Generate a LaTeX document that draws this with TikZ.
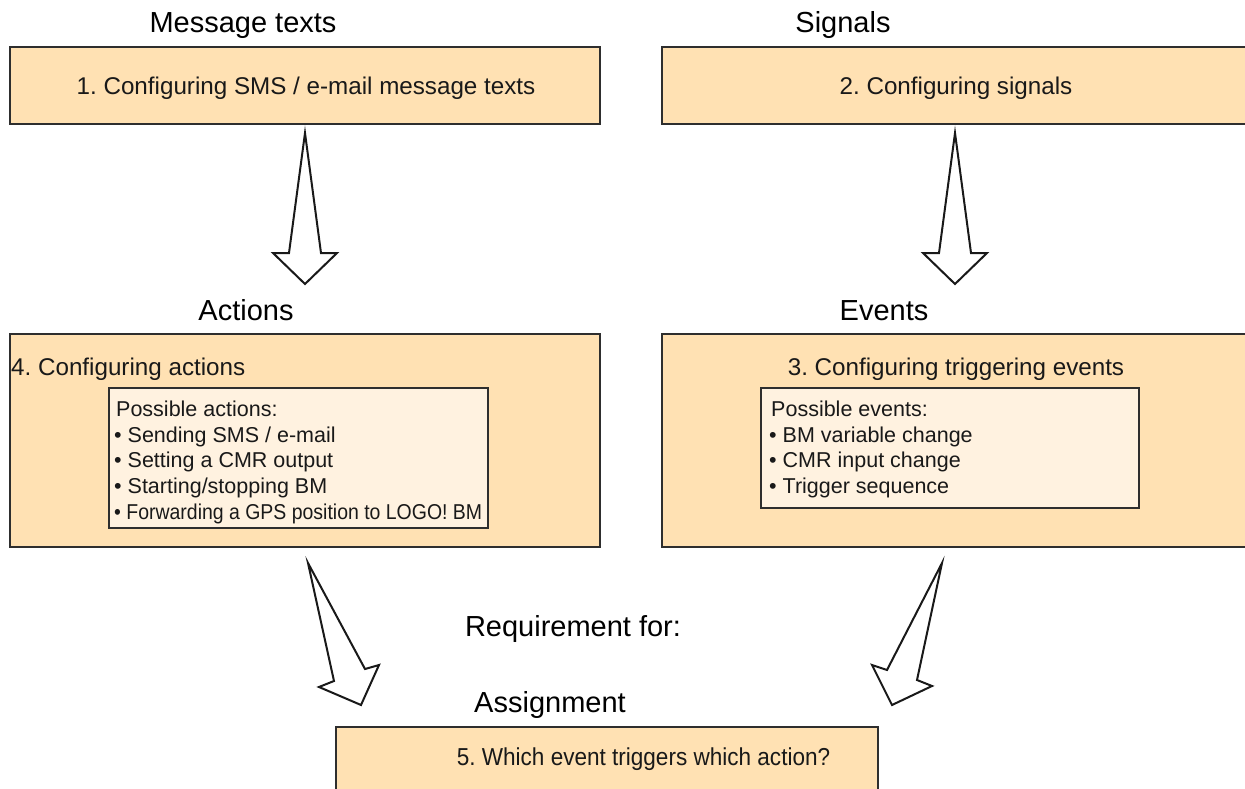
\documentclass[tikz,border=0pt]{standalone}
\usepackage{fontspec}
\usepackage{graphicx}
\setmainfont{Liberation Sans}
\frenchspacing
\definecolor{boxfill}{HTML}{FFE1B3}
\definecolor{innerfill}{HTML}{FFF2E0}
\definecolor{edgecol}{HTML}{2E2E2E}
\begin{document}
\frenchspacing
\begin{tikzpicture}[x=1pt,y=-1pt,
  outerbox/.style={draw=edgecol,line width=2pt,fill=boxfill,inner sep=0pt},
  innerbox/.style={draw=edgecol,line width=2pt,fill=innerfill,inner sep=0pt},
  heading/.style={font=\fontsize{29}{34}\selectfont,inner sep=0pt,anchor=base,text=black},
  boxtext/.style={font=\fontsize{24.2}{28}\selectfont\frenchspacing,inner sep=0pt,anchor=base,text=black!90},
  listtext/.style={font=\fontsize{21.5}{25}\selectfont,inner sep=0pt,anchor=base west,text=black!90},
  blockarrow/.style={draw=black!90,line width=2pt,fill=white,line join=miter}]
\useasboundingbox (0,0) rectangle (1245,788);
\clip (0,0) rectangle (1245,788);
% headings
\node[heading] (hmsg) at (243,32.5) {Message texts};
\node[heading] (hsig) at (843,32.5) {Signals};
\node[heading] (hact) at (246,320) {Actions};
\node[heading] (hevt) at (884,320) {Events};
\node[heading] (hreq) at (573,636) {Requirement for:};
\node[heading] (hasg) at (550,712) {Assignment};
% boxes
\draw[outerbox] (10,47) rectangle (600,124);
\node[boxtext] (t1) at (306,94.5) {1. Configuring SMS / e-mail message texts};
\draw[outerbox] (662,47) rectangle (1260,124);
\node[boxtext] (t2) at (956,94.5) {2. Configuring signals};
\draw[outerbox] (10,334) rectangle (600,547);
\node[boxtext,anchor=base west] (t4) at (11,375.5) {4. Configuring actions};
\draw[innerbox] (109,388) rectangle (488,528);
\node[listtext] (a0) at (116,416) {Possible actions:};
\node[listtext] (a1) at (114,442) {\textbullet{} Sending SMS / e-mail};
\node[listtext] (a2) at (114,467.5) {\textbullet{} Setting a CMR output};
\node[listtext] (a3) at (114,493) {\textbullet{} Starting/stopping BM};
\node[listtext] (a4) at (114,519) {\scalebox{0.905}[1]{\textbullet{} Forwarding a GPS position to LOGO! BM}};
\draw[outerbox] (662,334) rectangle (1260,547);
\node[boxtext] (t3) at (956,375.5) {3. Configuring triggering events};
\draw[innerbox] (761,388) rectangle (1139,508);
\node[listtext] (e0) at (771,416) {Possible events:};
\node[listtext] (e1) at (769,442) {\textbullet{} BM variable change};
\node[listtext] (e2) at (769,467.5) {\textbullet{} CMR input change};
\node[listtext] (e3) at (769,493) {\textbullet{} Trigger sequence};
\draw[outerbox] (336,727) rectangle (878,800);
\node[boxtext,font=\fontsize{24.5}{28}\selectfont] (t5) at (643.5,765) {\scalebox{0.92}[1]{5. Which event triggers which action?}};
% block arrows
\draw[blockarrow] (305,133) -- (321,253) -- (337,253) -- (305,284) -- (273,253) -- (289,253) -- cycle;
\draw[blockarrow] (955,133) -- (971,253) -- (987,253) -- (955,284) -- (923,253) -- (939,253) -- cycle;
\draw[blockarrow] (308,563) -- (365,669) -- (379,665) -- (361,705) -- (319,687) -- (334,681) -- cycle;
\draw[blockarrow] (942,563) -- (917,680) -- (932,686) -- (892,705) -- (872,665) -- (887,670) -- cycle;
\end{tikzpicture}
\end{document}
